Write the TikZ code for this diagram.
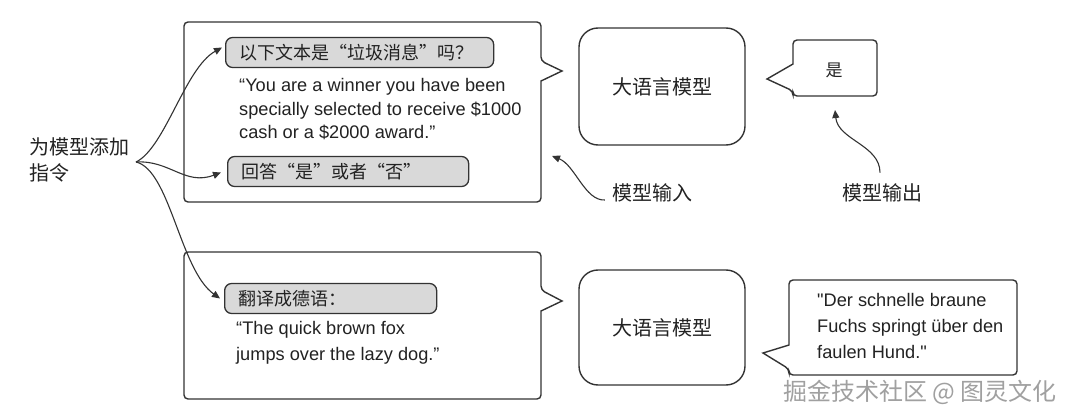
\documentclass[tikz,border=0pt]{standalone}
\usepackage{fontspec}
\setmainfont{Liberation Sans}
\newfontfamily\plainsans{Liberation Sans}
\newfontfamily\cjk{Noto Sans CJK SC}
\usetikzlibrary{arrows.meta}
\definecolor{ln}{HTML}{333333}
\definecolor{gf}{HTML}{D9D9D9}
\definecolor{tx}{HTML}{222222}
\definecolor{wmc}{HTML}{A0A0A0}
\begin{document}
\begin{tikzpicture}[x=1pt,y=-1pt,
  frame/.style={draw=ln,line width=1.4pt,rounded corners=4pt},
  gbox/.style={draw=ln,line width=1.3pt,fill=gf,rounded corners=7pt,inner xsep=14pt,inner ysep=0pt,minimum height=30pt,align=left,anchor=west,font=\cjk\fontsize{18}{22}\selectfont,text=tx},
  entext/.style={anchor=north west,align=left,inner sep=0pt,font=\fontsize{18.2}{26}\selectfont,text=tx},
  llm/.style={draw=ln,line width=1.4pt,rounded corners=19pt,minimum width=166pt,font=\cjk\fontsize{20}{24}\selectfont,text=tx},
  lab/.style={font=\cjk\fontsize{20}{26}\selectfont,text=tx,inner sep=0pt,align=left},
  arr/.style={draw=ln,line width=1.1pt,-{Triangle[length=8pt,width=7pt]}}
]
\useasboundingbox (0,0) rectangle (1080,417);
\fill[white] (0,0) rectangle (1080,417);

% left label
\node[lab,anchor=west] (lab) at (29,160) {为模型添加\\指令};
\coordinate (br) at (136,162);

% top input callout
\draw[frame] (184,22) -- (541,22) -- (541,61) [sharp corners] -- (562,71) -- (541,81) [rounded corners=4pt] -- (541,202) -- (184,202) -- cycle;
\node[gbox,text width=240pt] (g1) at (225,52.5) {以下文本是“垃圾消息”吗？};
\node[entext,font=\fontsize{18.2}{23.5}\selectfont] (t1) at (239,78.5) {“You are a winner you have been\\specially selected to receive \$1000\\cash or a \$2000 award.”};
\node[gbox,text width=213pt] (g2) at (227,171.5) {回答“是”或者“否”};

% bottom input callout
\draw[frame] (184,252) -- (541,252) -- (541,290) [sharp corners] -- (562,301) -- (541,311) [rounded corners=4pt] -- (541,399) -- (184,399) -- cycle;
\node[gbox,text width=184pt] (g3) at (224,298.5) {翻译成德语：};
\node[entext] (t2) at (236,321) {“The quick brown fox\\jumps over the lazy dog.”};

% models
\node[llm,minimum height=117pt] (llm1) at (662,86.5) {大语言模型};
\node[llm,minimum height=115pt] (llm2) at (662,327.5) {大语言模型};

% output callouts
\draw[frame] (793,40) -- (877,40) -- (877,96) -- (793,96) -- (793,91) [sharp corners] -- (767,79) -- (793,64) [rounded corners=4pt] -- cycle;
\node[lab,font=\cjk\fontsize{17}{20}\selectfont] (o1) at (834,70) {是};
\draw[frame] (789,280) -- (1017,280) -- (1017,375) -- (789,375) -- (789,369) [sharp corners] -- (763,353) -- (789,345) [rounded corners=4pt] -- cycle;
\node[entext,font=\plainsans\fontsize{18.2}{26}\selectfont] (o2) at (817,293) {"Der schnelle braune\\Fuchs springt über den\\faulen Hund."};

% annotations
\node[lab] (in1) at (652,193) {模型输入};
\node[lab] (out1) at (882,193) {模型输出};
\coordinate (in1tip) at (552,156);
\coordinate (out1tip) at (835,110);
\draw[arr] ([shift={(-7,7)}]in1.west) .. controls (585,201) and (575,165) .. (in1tip);
\draw[arr] ([shift={(-2,-11)}]out1.north) .. controls (880,145) and (838,140) .. (out1tip);

% instruction arrows
\draw[arr] (br) .. controls (165,148) and (185,68) .. ([shift={(-3,-5)}]g1.west);
\draw[arr] (br) .. controls (170,160) and (185,186) .. ([shift={(-6,1)}]g2.west);
\draw[arr] (br) .. controls (170,170) and (180,270) .. ([shift={(-4,0)}]g3.west);

% watermark
\node[lab,text=wmc,font=\cjk\fontsize{24}{28}\selectfont] (wm) at (920,392) {掘金技术社区 @ 图灵文化};
\end{tikzpicture}
\end{document}
